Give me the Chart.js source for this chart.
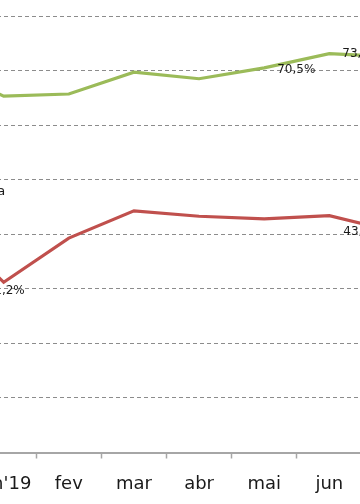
<!DOCTYPE html>
<html>
<head>
<meta charset="utf-8">
<script src="https://cdn.jsdelivr.net/npm/chart.js@4.4.1/dist/chart.umd.min.js"></script>
<style>
    html, body { margin: 0; padding: 0; background: #ffffff; overflow: hidden; }
    body { width: 360px; height: 504px; position: relative; }
    /* the chart is wider than the window: it is cut at both sides */
    #wrap { position: absolute; left: -94px; top: 0; width: 521px; height: 504px; }
</style>
</head>
<body>
<div id="wrap"><canvas id="chart" width="521" height="504"></canvas></div>
<script>
// Month categories (first and last lie outside the visible window)
const months = ['dez', "jan'19", 'fev', 'mar', 'abr', 'mai', 'jun', 'jul'];

// Series values in %
const greenValues = [71.0, 65.3, 65.7, 69.7, 68.5, 70.5, 73.1, 72.5];
const redValues = [43.0, 31.2, 39.3, 44.3, 43.3, 42.8, 43.4, 40.5];

// Value axis range and grid step
const yMin = 0;
const yMax = 80;
const yStep = 10;

// Which points carry a value label, and where the label sits
const pointLabels = [
    { ds: 0, i: 5, dx: 13, dy: 2, align: 'left' },
    { ds: 0, i: 6, dx: 13, dy: 0.5, align: 'left' },
    { ds: 1, i: 1, dx: 2, dy: 8.5, align: 'center' },
    { ds: 1, i: 6, dx: 14, dy: 16, align: 'left' }
];

const FONT = '"DejaVu Sans", sans-serif';

function formatPct(v) {
    return v.toFixed(1).replace('.', ',') + '%';
}

// Draw value labels next to chosen points, plus the cut series caption
const labelPlugin = {
    id: 'pointLabels',
    afterDatasetsDraw(chart) {
        const ctx = chart.ctx;
        ctx.save();
        ctx.font = '12px ' + FONT;
        ctx.fillStyle = '#1a1a1a';
        ctx.textBaseline = 'middle';
        pointLabels.forEach(lbl => {
            const pt = chart.getDatasetMeta(lbl.ds).data[lbl.i];
            const value = chart.data.datasets[lbl.ds].data[lbl.i];
            ctx.textAlign = lbl.align;
            ctx.fillText(formatPct(value), pt.x + lbl.dx, pt.y + lbl.dy);
        });

        // series caption, only its last letter shows at the left edge
        const x = chart.scales.x.getPixelForValue(1);
        const y = chart.scales.y.getPixelForValue(48);
        ctx.font = '13px ' + FONT;
        ctx.textAlign = 'right';
        ctx.fillText('Média', x + 1.5, y + 1);
        ctx.restore();
    }
};

const ctx = document.getElementById('chart').getContext('2d');
new Chart(ctx, {
    type: 'line',
    data: {
        labels: months,
        datasets: [
            {
                label: 'verde',
                data: greenValues,
                borderColor: '#9bbb59',
                borderWidth: 3.2,
                pointRadius: 0,
                tension: 0
            },
            {
                label: 'vermelho',
                data: redValues,
                borderColor: '#c0504d',
                borderWidth: 3.2,
                pointRadius: 0,
                tension: 0
            }
        ]
    },
    options: {
        responsive: false,
        animation: false,
        devicePixelRatio: 1,
        layout: { padding: { top: 16, left: 0, right: 0, bottom: 0 } },
        plugins: {
            legend: { display: false },
            tooltip: { enabled: false }
        },
        scales: {
            x: {
                offset: true,
                grid: {
                    offset: true,
                    drawOnChartArea: false,
                    drawTicks: true,
                    tickLength: 6,
                    tickColor: '#a6a6a6',
                    tickWidth: 1.5
                },
                border: { display: true, color: '#a6a6a6', width: 2 },
                ticks: {
                    font: { family: FONT, size: 18 },
                    color: '#1a1a1a',
                    padding: 15,
                    maxRotation: 0,
                    autoSkip: false
                },
                afterFit(scale) { scale.height = 51.5; }
            },
            y: {
                min: yMin,
                max: yMax,
                ticks: { display: false, stepSize: yStep },
                border: { display: false, dash: [4, 3] },
                grid: {
                    drawTicks: false,
                    color: '#8c8c8c',
                    lineWidth: 1
                },
                afterFit(scale) { scale.width = 0; }
            }
        }
    },
    plugins: [labelPlugin]
});
</script>
</body>
</html>
